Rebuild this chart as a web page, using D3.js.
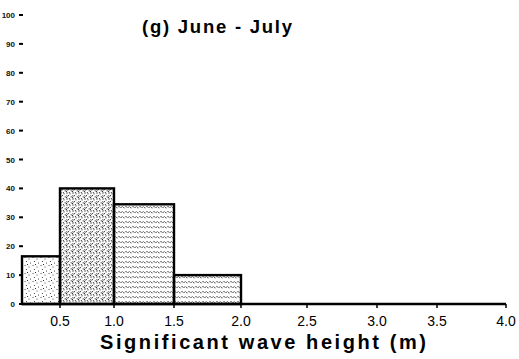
<!DOCTYPE html>
<html>
<head>
<meta charset="utf-8">
<script src="https://cdn.jsdelivr.net/npm/d3@7"></script>
<style>
  html, body { margin: 0; padding: 0; background: #fff; }
  svg { display: block; font-family: 'Liberation Sans', Arial, sans-serif; }
</style>
</head>
<body>
<div id="app"></div>
<script>
// histogram bins (m) and share of observations (%)
const binStart = [0.2, 0.5, 1.0, 1.5];
const binEnd = [0.5, 1.0, 1.5, 2.0];
const percent = [16.5, 40, 34.5, 10];

const xTicks = [0.5, 1.0, 1.5, 2.0, 2.5, 3.0, 3.5, 4.0];
const xTickLabels = ['0.5', '1.0', '1.5', '2.0', '2.5', '3.0', '3.5', '4.0'];
const yTicks = [0, 10, 20, 30, 40, 50, 60, 70, 80, 90, 100];

const title = '(g) June - July';
const xTitle = 'Significant wave height (m)';

const width = 519;
const height = 359;

const svg = d3.select('#app').append('svg')
  .attr('width', width)
  .attr('height', height)
  .attr('viewBox', `0 0 ${width} ${height}`);

// the scanned axis is slightly stretched, so the scale is piecewise
const x = d3.scaleLinear()
  .domain([0.2, 0.5, 1.0, 1.5, 2.0, 2.5, 3.0, 3.5, 4.0])
  .range([22, 60, 114, 174, 241, 307, 377, 437, 506]);

const y = d3.scaleLinear()
  .domain([0, 100])
  .range([304, 15]);

// fill textures
const defs = svg.append('defs');

const sparse = defs.append('pattern')
  .attr('id', 'stipple')
  .attr('patternUnits', 'userSpaceOnUse')
  .attr('width', 8).attr('height', 8);
[[1, 1.5], [5, 3], [2.5, 5.5], [6.5, 7], [3.5, 0.5]].forEach(([cx, cy]) => {
  sparse.append('circle').attr('cx', cx).attr('cy', cy).attr('r', 0.6).attr('fill', '#333');
});

const dense = defs.append('pattern')
  .attr('id', 'stippleDense')
  .attr('patternUnits', 'userSpaceOnUse')
  .attr('width', 6).attr('height', 6);
[[1, 1], [4, 1.8], [2.3, 3.6], [5.2, 4.8], [0.5, 5.3], [3.4, 0.2]].forEach(([cx, cy]) => {
  dense.append('circle').attr('cx', cx).attr('cy', cy).attr('r', 0.65).attr('fill', '#222');
});
dense.append('path')
  .attr('d', 'M0,3 L1.5,4.5 L3,3')
  .attr('fill', 'none').attr('stroke', '#444').attr('stroke-width', 0.6);

const zig = defs.append('pattern')
  .attr('id', 'zigzag')
  .attr('patternUnits', 'userSpaceOnUse')
  .attr('width', 7).attr('height', 5);
zig.append('path')
  .attr('d', 'M0,1.2 L1.75,3.2 L3.5,1.2 L5.25,3.2 L7,1.2')
  .attr('fill', 'none').attr('stroke', '#222').attr('stroke-width', 0.8)
  .attr('stroke-dasharray', '2.2 1');

const patternFor = ['url(#stipple)', 'url(#stippleDense)', 'url(#zigzag)', 'url(#zigzag)'];

// bars
svg.append('g')
  .selectAll('rect')
  .data(percent)
  .join('rect')
  .attr('x', (d, i) => x(binStart[i]))
  .attr('y', d => y(d))
  .attr('width', (d, i) => x(binEnd[i]) - x(binStart[i]))
  .attr('height', d => y(0) - y(d))
  .attr('fill', (d, i) => patternFor[i])
  .attr('stroke', '#000')
  .attr('stroke-width', 2.4);

// x axis
const xAxis = svg.append('g').attr('transform', `translate(0,${y(0)})`);
xAxis.append('line')
  .attr('x1', x(0.2)).attr('x2', x(4.0))
  .attr('stroke', '#000').attr('stroke-width', 2.4);
xAxis.selectAll('.tick')
  .data(xTicks)
  .join('line')
  .attr('x1', d => x(d)).attr('x2', d => x(d))
  .attr('y1', 0).attr('y2', 4)
  .attr('stroke', '#000').attr('stroke-width', 1.5);
xAxis.selectAll('text')
  .data(xTicks)
  .join('text')
  .attr('x', d => x(d))
  .attr('y', 22)
  .attr('text-anchor', 'middle')
  .attr('font-size', 14)
  .attr('fill', '#000')
  .text((d, i) => xTickLabels[i]);

// y axis: ticks and small labels only
const yAxis = svg.append('g');
yAxis.selectAll('line')
  .data(yTicks)
  .join('line')
  .attr('x1', 19).attr('x2', 23)
  .attr('y1', d => y(d)).attr('y2', d => y(d))
  .attr('stroke', '#000').attr('stroke-width', 2);
yAxis.selectAll('text')
  .data(yTicks)
  .join('text')
  .attr('x', 15)
  .attr('y', d => y(d) + 3)
  .attr('text-anchor', 'end')
  .attr('font-size', 8)
  .attr('font-weight', 'bold')
  .attr('fill', '#111')
  .text(d => d);

// titles
svg.append('text')
  .attr('x', 142)
  .attr('y', 33)
  .attr('font-size', 18.5)
  .attr('font-weight', 'bold')
  .attr('textLength', 150)
  .attr('lengthAdjust', 'spacing')
  .text(title);

svg.append('text')
  .attr('x', 100)
  .attr('y', 349)
  .attr('font-size', 20)
  .attr('font-weight', 'bold')
  .attr('textLength', 326)
  .attr('lengthAdjust', 'spacing')
  .text(xTitle);
</script>
</body>
</html>
